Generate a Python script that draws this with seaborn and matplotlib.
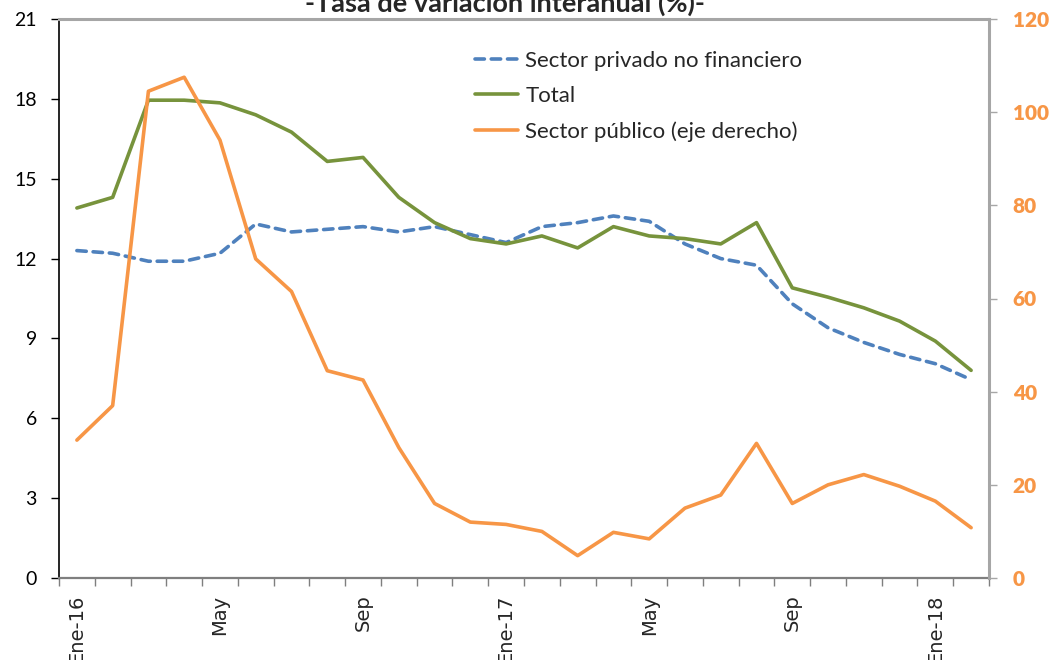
import matplotlib
matplotlib.use("Agg")
import matplotlib.pyplot as plt
import seaborn as sns
import pandas as pd
import numpy as np
from matplotlib.lines import Line2D

# ---- data ----
months = ["Ene-16", "Feb", "Mar", "Abr", "May", "Jun", "Jul", "Ago", "Sep", "Oct", "Nov", "Dic",
          "Ene-17", "Feb", "Mar", "Abr", "May", "Jun", "Jul", "Ago", "Sep", "Oct", "Nov", "Dic",
          "Ene-18", "Feb-18"]
shown_labels = ["Ene-16", "May", "Sep", "Ene-17", "May", "Sep", "Ene-18"]
shown_idx = [0, 4, 8, 12, 16, 20, 24]

privado = [12.3, 12.2, 11.9, 11.9, 12.2, 13.3, 13.0, 13.1, 13.2, 13.0, 13.2, 12.9, 12.6,
           13.2, 13.35, 13.6, 13.4, 12.55, 12.0, 11.75, 10.3, 9.4, 8.85, 8.4, 8.05, 7.45]
total = [13.9, 14.3, 17.95, 17.95, 17.85, 17.4, 16.75, 15.65, 15.8, 14.3, 13.35, 12.75, 12.55,
         12.85, 12.4, 13.2, 12.85, 12.75, 12.55, 13.35, 10.9, 10.55, 10.15, 9.65, 8.9, 7.8]
publico = [29.6, 37, 104.5, 107.5, 94, 68.5, 61.5, 44.5, 42.5, 28, 16, 12, 11.5,
           10, 4.8, 9.8, 8.4, 15, 17.8, 28.9, 16, 20, 22.2, 19.7, 16.5, 10.8]

left_ticks = [0, 3, 6, 9, 12, 15, 18, 21]
right_ticks = [0, 20, 40, 60, 80, 100, 120]

title = "-Tasa de variación interanual (%)-"
lab_priv = "Sector privado no financiero"
lab_tot = "Total"
lab_pub = "Sector público (eje derecho)"

# ---- style ----
sns.set_style("white")
plt.rcParams["font.family"] = ["Lato", "DejaVu Sans"]

c_blue = "#4F81BD"
c_green = "#77933C"
c_orange = "#F79646"
lw = 2.6
dash = (0, (2.6, 1.9))

W, H = 1052, 660
fig = plt.figure(figsize=(W / 100, H / 100), dpi=100)
L, R, T, B = 59, 989, 19, 578
ax = fig.add_axes([L / W, (H - B) / H, (R - L) / W, (B - T) / H])
ax2 = ax.twinx()

df = pd.DataFrame({"i": np.arange(len(months)), "mes": months,
                   "privado": privado, "total": total, "publico": publico})

sns.lineplot(data=df, x="i", y="privado", ax=ax, color=c_blue, lw=lw,
             linestyle=dash, dash_capstyle="round", legend=False)
sns.lineplot(data=df, x="i", y="total", ax=ax, color=c_green, lw=lw,
             solid_capstyle="round", legend=False)
sns.lineplot(data=df, x="i", y="publico", ax=ax2, color=c_orange, lw=lw,
             solid_capstyle="round", legend=False)

ax.set_xlim(-0.5, len(months) - 0.5)
ax.set_ylim(0, 21)
ax2.set_ylim(0, 120)
ax.set_xlabel("")
ax.set_ylabel("")
ax2.set_ylabel("")

# x ticks: marks between categories, labels at selected months
ax.set_xticks(np.arange(-0.5, len(months), 1.0))
ax.set_xticklabels([])
ax.set_xticks(shown_idx, minor=True)
ax.set_xticklabels(shown_labels, minor=True, rotation=90, fontsize=14,
                   family="DejaVu Sans", va="top", ha="center")
ax.tick_params(axis="x", which="major", direction="out", length=6, width=1,
               color="#7f7f7f", bottom=True)
ax.tick_params(axis="x", which="minor", length=0, pad=12, bottom=True)

ax.set_yticks(left_ticks)
ax.set_yticklabels([str(v) for v in left_ticks], fontsize=14)
ax.tick_params(axis="y", direction="out", length=6, width=1, color="black",
               pad=10, left=True, labelcolor="black")

ax2.set_yticks(right_ticks)
ax2.set_yticklabels([str(v) for v in right_ticks], fontsize=15, fontweight="heavy")
ax2.tick_params(axis="y", direction="out", length=6, width=1, color="#a6a6a6",
                pad=11, right=True, labelcolor=c_orange)

for s in ["top", "right"]:
    ax.spines[s].set_visible(False)
ax.spines["left"].set_color("black")
ax.spines["left"].set_linewidth(1.2)
ax.spines["bottom"].set_color("#7f7f7f")
ax.spines["bottom"].set_linewidth(1.6)
for s in ["left", "bottom"]:
    ax2.spines[s].set_visible(False)
for s in ["top", "right"]:
    ax2.spines[s].set_visible(True)
    ax2.spines[s].set_color("#a6a6a6")
    ax2.spines[s].set_linewidth(2.2)

# title (partly clipped at the top, as in the reference)
fig.text(505 / W, 1 - 12 / H, title, ha="center", va="baseline",
         fontsize=19.5, fontweight="bold")

handles = [
    Line2D([], [], color=c_blue, lw=lw, linestyle=dash, dash_capstyle="round"),
    Line2D([], [], color=c_green, lw=lw),
    Line2D([], [], color=c_orange, lw=lw),
]
leg = ax2.legend(handles, [lab_priv, lab_tot, lab_pub], loc="upper left",
                 bbox_to_anchor=(475 / W, 1 - 51 / H), bbox_transform=fig.transFigure,
                 frameon=False, fontsize=16, handlelength=1.94, handletextpad=0.32,
                 labelspacing=0.68, borderpad=0, borderaxespad=0)

fig.savefig("out.png", dpi=100, facecolor="white")
